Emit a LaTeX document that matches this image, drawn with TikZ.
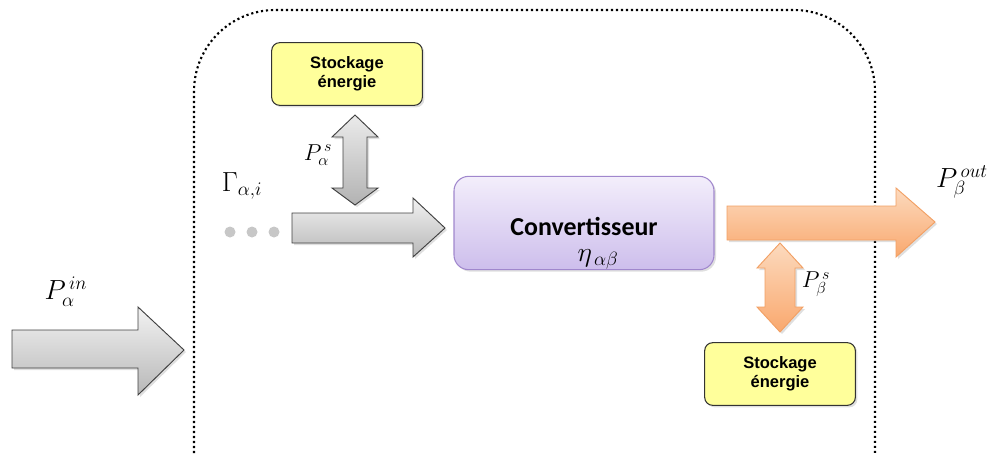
\documentclass[tikz,border=0pt]{standalone}
\usepackage{fontspec}
\newfontfamily\labfont{Liberation Sans}
\newfontfamily\convfont{Carlito}
\usetikzlibrary{shadows}
\definecolor{convborder}{RGB}{160,135,205}
\definecolor{convtop}{RGB}{243,238,251}
\definecolor{convbot}{RGB}{205,190,236}
\definecolor{storefill}{RGB}{255,255,155}
\definecolor{orborder}{RGB}{242,160,100}
\definecolor{ortop}{RGB}{252,218,190}
\definecolor{orbot}{RGB}{249,168,110}
\begin{document}
\begin{tikzpicture}[x=0.75pt,y=-0.75pt,
  shad/.style={drop shadow={opacity=0.25,shadow xshift=1.5pt,shadow yshift=-1.5pt}},
  greyarrow/.style={draw=black!75, line width=0.7pt, line join=miter, top color=black!5, bottom color=black!28, shad},
  greyvarrow/.style={draw=black!75, line width=0.7pt, line join=miter, top color=black!8, bottom color=black!30, shad},
  orangearrow/.style={draw=orborder, line width=0.7pt, line join=miter, top color=ortop, bottom color=orbot, shad},
  orangevarrow/.style={draw=orborder, line width=0.7pt, line join=miter, top color=ortop, bottom color=orbot, shad},
  storebox/.style={draw=black!80, line width=0.8pt, fill=storefill, rounded corners=6pt, minimum width=113pt, minimum height=47pt, align=center, font=\labfont\bfseries\fontsize{12.4}{14.5}\selectfont, shad},
  convbox/.style={draw=convborder, line width=0.8pt, top color=convtop, bottom color=convbot, rounded corners=11pt, minimum width=195pt, minimum height=70pt, shad},
  biglab/.style={font=\huge, inner sep=0pt},
  midlab/.style={font=\LARGE, inner sep=0pt},
  dotline/.style={line width=1.6pt, dash pattern=on 1.6pt off 2.15pt}
]
\useasboundingbox (0,0) rectangle (995,453);

% dotted frame
\draw[dotline, rounded corners=61pt] (194,453) -- (194,10) -- (875,10) -- (875,453);

% left input arrow
\draw[greyarrow] (12,330) -- (138,330) -- (138,307) -- (184,350) -- (138,395) -- (138,368) -- (12,368) -- cycle;
\node[biglab] (pin) at (66,292) {$P_{\alpha}^{\,in}$};

% top storage
\node[storebox] (st1) at (347,74) {Stockage\\énergie};
\draw[greyvarrow] (355,115) -- (378,137) -- (367,137) -- (367,188) -- (378,188) -- (355,205) -- (332,188) -- (343,188) -- (343,137) -- (332,137) -- cycle;
\node[midlab] (pas) at (318,155) {$P_{\alpha}^{\,s}$};

% gamma and dots
\node[biglab] (gam) at (242,186) {$\Gamma_{\alpha,i}$};
\foreach \xx/\nm in {230/d1,252/d2,274/d3}
  \fill[black!22] (\xx,232) circle[radius=5.5];
\draw[greyarrow] (292,213) -- (413,213) -- (413,198) -- (445,228) -- (413,257) -- (413,243) -- (292,243) -- cycle;

% converter
\node[convbox] (conv) at (584,223) {};
\node[font=\convfont\bfseries\fontsize{19.4}{22}\selectfont, inner sep=0pt] (convt) at (584,226) {Convertisseur};
\node[biglab] (eta) at (598,259) {$\eta_{\,\alpha\beta}$};

% output arrow
\draw[orangearrow] (727,206) -- (896,206) -- (896,188) -- (935,222) -- (896,257) -- (896,240) -- (727,240) -- cycle;
\node[biglab] (pout) at (962,182) {$P_{\beta}^{\,out}$};

% bottom storage
\draw[orangevarrow] (780,243) -- (803,268) -- (795,268) -- (795,307) -- (803,307) -- (780,332) -- (757,307) -- (765,307) -- (765,268) -- (757,268) -- cycle;
\node[midlab] (pbs) at (816,284) {$P_{\beta}^{\,s}$};
\node[storebox] (st2) at (780,374) {Stockage\\énergie};
\end{tikzpicture}
\end{document}
